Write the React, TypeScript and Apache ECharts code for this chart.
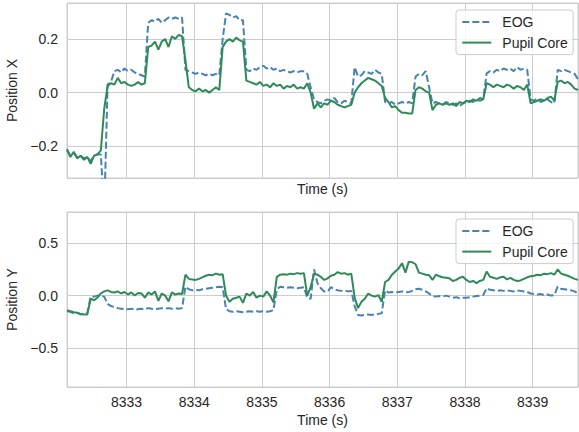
import React, { useEffect, useRef } from "react";
import * as echarts from "echarts";

// Sampling grid (s)
const T0 = 8332.12;
const DT = 0.05;

// Position X — EOG
const eogX = [
  -0.215, -0.235, -0.225, -0.24, -0.235, -0.245, -0.24, -0.255, -0.235, -0.23,
  -0.23, -0.45, 0.03, 0.04, 0.08, 0.085, 0.075, 0.09, 0.08, 0.085,
  0.075, 0.07, 0.065, 0.06, 0.26, 0.27, 0.265, 0.275, 0.26, 0.27,
  0.28, 0.275, 0.28, 0.275, 0.28, 0.085, 0.08, 0.075, 0.07, 0.075,
  0.07, 0.065, 0.07, 0.065, 0.07, 0.065, 0.2, 0.295, 0.29, 0.28,
  0.285, 0.27, 0.27, 0.085, 0.08, 0.09, 0.085, 0.095, 0.1, 0.09,
  0.095, 0.085, 0.09, 0.08, 0.085, 0.08, 0.075, 0.08, 0.075, 0.08,
  0.08, 0.07, 0.02, -0.025, -0.035, -0.04, -0.03, -0.025, -0.03, -0.02,
  -0.035, -0.04, -0.03, -0.035, -0.04, 0.095, 0.06, 0.065, 0.08, 0.075,
  0.07, 0.085, 0.075, 0.07, -0.035, -0.04, -0.035, -0.045, -0.04, -0.035,
  -0.04, -0.035, -0.04, 0.06, 0.07, 0.065, 0.08, 0.02, -0.04, -0.035,
  -0.04, -0.045, -0.035, -0.04, -0.045, -0.04, -0.05, -0.04, -0.035, -0.03,
  -0.035, -0.025, -0.03, -0.025, 0.072, 0.08, 0.075, 0.085, 0.08, 0.09,
  0.085, 0.09, 0.08, 0.095, 0.085, 0.09, 0.085, -0.025, -0.03, -0.02,
  -0.035, -0.03, -0.025, -0.035, -0.04, 0.085, 0.08, 0.085, 0.08, 0.075,
  0.07, 0.05,
];

// Position X — Pupil Core
const pupilX = [
  -0.21, -0.24, -0.22, -0.245, -0.235, -0.25, -0.24, -0.265, -0.235, -0.23,
  -0.215, -0.06, 0.025, 0.035, 0.03, 0.055, 0.035, 0.04, 0.03, 0.025,
  0.03, 0.04, 0.03, 0.035, 0.17, 0.175, 0.19, 0.16, 0.19, 0.2,
  0.17, 0.21, 0.2, 0.215, 0.21, 0.12, 0.02, 0.01, 0.005, 0.015,
  0.005, 0.01, 0.0, 0.01, 0.02, 0.01, 0.17, 0.19, 0.2, 0.19,
  0.205, 0.195, 0.19, 0.045, 0.04, 0.035, 0.03, 0.04, 0.025, 0.03,
  0.02, 0.035, 0.025, 0.03, 0.015, 0.025, 0.02, 0.03, 0.015, 0.02,
  0.015, 0.035, 0.0, -0.06, -0.04, -0.055, -0.04, -0.045, -0.03, -0.035,
  -0.045, -0.05, -0.055, -0.05, -0.045, 0.0, 0.02, 0.035, 0.045, 0.055,
  0.05, 0.045, 0.035, 0.025, -0.02, -0.035, -0.055, -0.05, -0.065, -0.075,
  -0.075, -0.078, -0.078, 0.01, 0.02, 0.015, 0.005, 0.0, -0.065, -0.045,
  -0.04, -0.045, -0.04, -0.045, -0.04, -0.05, -0.035, -0.04, -0.03, -0.035,
  -0.025, -0.03, -0.02, -0.025, 0.035, 0.03, 0.02, 0.03, 0.025, 0.02,
  0.03, 0.025, 0.015, 0.025, 0.02, 0.01, 0.03, -0.04, -0.035, -0.03,
  -0.025, -0.03, -0.02, -0.015, -0.03, 0.04, 0.045, 0.035, 0.04, 0.03,
  0.015, 0.01,
];

// Position Y — EOG
const eogY = [
  -0.15, -0.155, -0.17, -0.165, -0.18, -0.175, -0.17, -0.01, -0.01, 0.0,
  -0.005, -0.01, -0.08, -0.1, -0.11, -0.12, -0.125, -0.13, -0.13, -0.125,
  -0.135, -0.13, -0.125, -0.13, -0.12, -0.125, -0.13, -0.125, -0.12, -0.125,
  -0.12, -0.125, -0.12, -0.125, -0.12, 0.085, 0.06, 0.05, 0.055, 0.05,
  0.06, 0.065, 0.07, 0.075, 0.08, 0.085, 0.08, -0.13, -0.15, -0.155,
  -0.15, -0.155, -0.16, -0.155, -0.15, -0.155, -0.15, -0.155, -0.15, -0.155,
  -0.15, -0.14, 0.06, 0.085, 0.08, 0.075, 0.08, 0.075, 0.07, 0.075,
  0.08, -0.02, -0.03, 0.25, 0.12, 0.07, 0.04, 0.04, 0.08, 0.06,
  0.05, 0.045, 0.05, 0.04, 0.045, -0.1, -0.185, -0.19, -0.185, -0.18,
  -0.185, -0.18, -0.175, -0.17, 0.05, 0.03, 0.035, 0.03, 0.035, 0.04,
  0.03, 0.035, 0.045, 0.06, 0.065, 0.055, 0.04, 0.02, -0.005, -0.01,
  -0.005, -0.01, 0.0, -0.01, -0.02, -0.015, -0.025, -0.02, -0.02, -0.015,
  -0.01, -0.005, 0.0, 0.005, 0.07, 0.055, 0.05, 0.045, 0.05, 0.045,
  0.05, 0.045, 0.04, 0.05, 0.045, 0.04, 0.035, 0.02, 0.015, 0.01,
  0.015, 0.005, 0.01, 0.0, 0.005, 0.085, 0.065, 0.06, 0.055, 0.05,
  0.04, 0.02,
];

// Position Y — Pupil Core
const pupilY = [
  -0.14, -0.15, -0.16, -0.165, -0.175, -0.18, -0.18, -0.03, -0.045, -0.02,
  0.02, 0.04, 0.05, 0.035, 0.03, 0.04, 0.02, 0.035, 0.01, 0.03,
  0.0, 0.025, 0.02, -0.02, 0.03, 0.01, 0.04, -0.05, 0.02, 0.0,
  -0.055, 0.03, 0.01, 0.02, 0.015, 0.2, 0.16, 0.155, 0.15, 0.16,
  0.175, 0.19, 0.2, 0.195, 0.21, 0.2, 0.205, 0.0, -0.06, -0.03,
  -0.02, -0.01, -0.07, 0.02, 0.0, 0.035, -0.02, 0.0, -0.01, 0.04,
  0.0, -0.065, 0.18, 0.2, 0.205, 0.2, 0.21, 0.205, 0.215, 0.21,
  0.215, 0.0, 0.08, 0.21, 0.2, 0.18, 0.15, 0.165, 0.19, 0.2,
  0.225, 0.21, 0.215, 0.2, 0.21, -0.02, -0.12, -0.06, -0.03, 0.02,
  0.0, -0.01, 0.005, -0.06, 0.13, 0.15, 0.2, 0.23, 0.26, 0.31,
  0.22, 0.325, 0.32, 0.3, 0.22, 0.21, 0.2, 0.195, 0.15, 0.2,
  0.185, 0.175, 0.17, 0.165, 0.14, 0.15, 0.17, 0.18, 0.15, 0.13,
  0.14, 0.12, 0.14, 0.15, 0.23, 0.18, 0.17, 0.16, 0.175, 0.18,
  0.155, 0.17, 0.15, 0.14, 0.145, 0.16, 0.175, 0.185, 0.19, 0.2,
  0.195, 0.21, 0.205, 0.215, 0.2, 0.25, 0.21, 0.2, 0.19, 0.175,
  0.16, 0.15,
];

const seriesNames = ["EOG", "Pupil Core"];
const xLabel = "Time (s)";
const yLabels = ["Position X", "Position Y"];

const FONT = "'Liberation Sans', Arial, sans-serif";
const TEXT = "#262626";
const GRIDC = "#cccccc";
const BLUE = "#4682b4";
const GREEN = "#2e8b57";

const times = eogX.map((_, i) => +(T0 + i * DT).toFixed(2));
const pairs = (vals: number[]) => vals.map((v, i) => [times[i], v]);

const yFmt = (v: number) => {
  const a = Math.abs(v) < 1e-9 ? 0 : v;
  return (a < 0 ? "\u2212" : "") + Math.abs(a).toFixed(1);
};

export default function App() {
  const ref = useRef<HTMLDivElement>(null);
  useEffect(() => {
    if (!ref.current) return;
    const chart = echarts.init(ref.current, undefined, { renderer: "svg" });
    const xAxisBase = (gi: number, showLabels: boolean) => ({
      type: "value",
      gridIndex: gi,
      min: 8332.12,
      max: 8339.67,
      splitNumber: 8,
      minInterval: 1,
      maxInterval: 1,
      axisLine: { show: false },
      axisTick: { show: false },
      splitLine: { show: true, lineStyle: { color: GRIDC, width: 1 } },
      axisLabel: {
        show: showLabels,
        showMinLabel: false,
        showMaxLabel: false,
        margin: 8,
        fontSize: 14,
        fontFamily: FONT,
        color: TEXT,
        formatter: (v: number) => String(Math.round(v)),
      },
      name: xLabel,
      nameLocation: "middle",
      nameGap: showLabels ? 26 : 4,
      nameTextStyle: { fontSize: 14, fontFamily: FONT, color: TEXT, verticalAlign: "top" },
    });
    const yAxisBase = (gi: number, min: number, max: number, iv: number, name: string) => ({
      type: "value",
      gridIndex: gi,
      min,
      max,
      splitNumber: 3,
      minInterval: iv,
      maxInterval: iv,
      axisLine: { show: false },
      axisTick: { show: false },
      splitLine: { show: true, lineStyle: { color: GRIDC, width: 1 } },
      axisLabel: {
        showMinLabel: false,
        showMaxLabel: false,
        margin: 9,
        fontSize: 14,
        fontFamily: FONT,
        color: TEXT,
        formatter: yFmt,
      },
      name,
      nameLocation: "middle",
      nameGap: 43,
      nameTextStyle: { fontSize: 14, fontFamily: FONT, color: TEXT },
    });
    const legendBase = (top: number) => ({
      orient: "vertical",
      left: 456,
      top,
      data: seriesNames,
      itemWidth: 29,
      itemHeight: 14,
      itemGap: 6.6,
      padding: [5, 5.5, 5, 5.3],
      backgroundColor: "rgba(255,255,255,0.8)",
      borderColor: GRIDC,
      borderWidth: 1,
      borderRadius: 3,
      selectedMode: false,
      itemStyle: { opacity: 0 },
      textStyle: { fontSize: 14, fontFamily: FONT, color: TEXT, padding: [0, 0, 0, 6] },
    });
    const lineSeries = (name: string, gi: number, vals: number[], color: string, dashed: boolean, z: number) => ({
      name,
      type: "line",
      xAxisIndex: gi,
      yAxisIndex: gi,
      data: pairs(vals),
      symbol: "none",
      showSymbol: false,
      clip: true,
      z,
      itemStyle: { color },
      lineStyle: { color, width: 2, type: dashed ? [7, 3] : "solid" },
    });
    chart.setOption({
      animation: false,
      backgroundColor: "#ffffff",
      textStyle: { fontFamily: FONT },
      grid: [
        { left: 67, right: 1, top: 3, height: 175, show: true, borderColor: GRIDC, borderWidth: 1, backgroundColor: "transparent", outerBoundsMode: "none" },
        { left: 67, right: 1, top: 212, height: 175, show: true, borderColor: GRIDC, borderWidth: 1, backgroundColor: "transparent", outerBoundsMode: "none" },
      ],
      xAxis: [xAxisBase(0, false), xAxisBase(1, true)],
      yAxis: [
        yAxisBase(0, -0.318, 0.334, 0.2, yLabels[0]),
        yAxisBase(1, -0.875, 0.8, 0.5, yLabels[1]),
      ],
      legend: [legendBase(10), legendBase(219)],
      series: [
        lineSeries(seriesNames[0], 0, eogX, BLUE, true, 2),
        lineSeries(seriesNames[1], 0, pupilX, GREEN, false, 3),
        lineSeries(seriesNames[0], 1, eogY, BLUE, true, 2),
        lineSeries(seriesNames[1], 1, pupilY, GREEN, false, 3),
      ],
    });
    return () => chart.dispose();
  }, []);
  return (
    <div
      ref={ref}
      style={{ position: "fixed", left: 0, top: 0, width: 579, height: 432, background: "#fff" }}
    />
  );
}
